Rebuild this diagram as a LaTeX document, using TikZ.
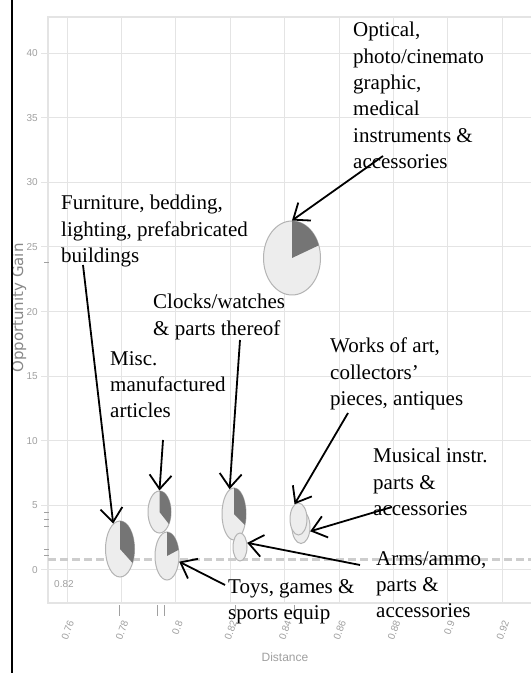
\documentclass[tikz,border=0pt]{standalone}
\usepackage{fontspec}
\setmainfont{Liberation Serif}
\setsansfont{Liberation Sans}
\newfontfamily\axisfont{DejaVu Sans}
\usetikzlibrary{arrows.meta,shapes.geometric}

\definecolor{gridgray}{HTML}{E4E4E4}
\definecolor{axisgray}{HTML}{A0A0A0}
\definecolor{bubblefill}{HTML}{EDEDED}
\definecolor{bubbleline}{HTML}{B4B4B4}
\definecolor{wedgegray}{HTML}{757575}
\definecolor{dashgray}{HTML}{CDCDCD}

\tikzset{
  bubble/.style={ellipse, draw=bubbleline, fill=bubblefill, line width=1pt, inner sep=0pt},
  lbl/.style={anchor=north west, inner sep=0pt, align=left, font=\fontsize{21}{26.4}\selectfont},
  callout/.style={line width=1.8pt, -{Straight Barb[length=14pt,width=22pt]}},
  ticklbl/.style={text=axisgray, inner sep=0pt, font=\sffamily\fontsize{10}{12}\selectfont},
  gridline/.style={gridgray, line width=1pt},
  rug/.style={axisgray, line width=0.8pt}
}

\newcommand{\piebubble}[6]{%
  \node [bubble, minimum width=#4*2pt, minimum height=#5*2pt] (#1) at (#2,#3) {};
  \fill [wedgegray] (#1.center) -- ++(0,#5) arc [start angle=90, end angle=#6, x radius=#4pt, y radius=#5pt] -- cycle;
}

\begin{document}
\begin{tikzpicture}[x=1pt,y=1pt]
  \useasboundingbox (0,0) rectangle (531,673);
  \fill [white] (0,0) rectangle (531,673);

  % panel and grid
  \foreach \k in {0,...,8}
    \draw [gridline] ({67+54.4*\k},70) -- ({67+54.4*\k},656);
  \foreach \v in {0,5,...,40} {
    \draw [gridline] (48,{103+12.92*\v}) -- (531,{103+12.92*\v});
    \draw [gridline] (41,{103+12.92*\v}) -- (48,{103+12.92*\v});
    \node [ticklbl, anchor=east] at (38,{103+12.92*\v}) {\v};
  }
  \draw [gridgray, line width=1.2pt] (531,656) -- (48,656) -- (48,70) -- (531,70);
  \foreach \k/\t in {0/0.76,1/0.78,2/0.8,3/0.82,4/0.84,5/0.86,6/0.88,7/0.9,8/0.92}
    \node [ticklbl, rotate=70, anchor=east] at ({71+54.4*\k},52) {\t};
  \node [ticklbl, font=\sffamily\fontsize{12}{14}\selectfont] (xtitle) at (285,16) {Distance};
  \node [ticklbl, text=axisgray!85!black, rotate=90, font=\axisfont\fontsize{15}{17}\selectfont] (ytitle) at (19,365) {Opportunity Gain};
  \node [ticklbl, anchor=west] (refval) at (54,89) {0.82};

  % rug marks
  \foreach \y in {411,161,154,147,124,118}
    \draw [rug] (44,\y) -- (49,\y);
  \foreach \x in {119,157,164,235,294}
    \draw [rug] (\x,57) -- (\x,68);

  \draw [dashgray, line width=3pt, dash pattern=on 8pt off 4pt] (48,113) -- (531,113);
  \draw [black, line width=2pt] (12,0) -- (12,673);

  % bubbles
  \piebubble{optical}{292}{415}{28.5}{37}{20}
  \piebubble{furniture}{120}{124}{14.5}{28}{-30}
  \piebubble{misc}{159.5}{161}{11.5}{21}{-35}
  \piebubble{toys}{167}{117}{12}{24}{15}
  \piebubble{clocks}{234}{159}{12}{26}{-25}
  \node [bubble, minimum width=14pt, minimum height=28pt] (arms) at (240,126) {};
  \node [bubble, minimum width=18pt, minimum height=33pt] (musical) at (301,146) {};
  \node [bubble, minimum width=17pt, minimum height=32pt] (works) at (298.5,154) {};

  % labels
  \node [lbl] (optlbl) at (353,651) {Optical,\\photo/cinemato\\graphic,\\medical\\instruments \&\\accessories};
  \node [lbl] (furnlbl) at (61,478) {Furniture, bedding,\\lighting, prefabricated\\buildings};
  \node [lbl] (misclbl) at (110,322) {Misc.\\manufactured\\articles};
  \node [lbl] (clocklbl) at (153,379) {Clocks/watches\\\& parts thereof};
  \node [lbl] (worklbl) at (330,335) {Works of art,\\collectors'\\pieces, antiques};
  \node [lbl] (muslbl) at (373,225) {Musical instr.\\parts \&\\accessories};
  \node [lbl] (armslbl) at (376,122) {Arms/ammo,\\parts \&\\accessories};
  \node [lbl] (toyslbl) at (228,94) {Toys, games \&\\sports equip};

  % callouts
  \coordinate (optstart) at (383,517);
  \coordinate (furnstart) at (83,408);
  \coordinate (miscstart) at (163,233);
  \coordinate (clockstart) at (240,333);
  \coordinate (workstart) at (348,260);
  \coordinate (musstart) at (392,166);
  \coordinate (armsstart) at (360,108);
  \coordinate (toysstart) at (225,88);
  \draw [callout] (optstart) -- (optical.north);
  \draw [callout] (furnstart) -- (furniture.105);
  \draw [callout] (miscstart) -- (misc.north);
  \draw [callout] (clockstart) -- (clocks.100);
  \draw [callout] (workstart) -- (works.105);
  \draw [callout] (musstart) -- (musical.-25);
  \draw [callout] (armsstart) -- (arms.30);
  \draw [callout] (toysstart) -- (toys.-25);
\end{tikzpicture}
\end{document}
